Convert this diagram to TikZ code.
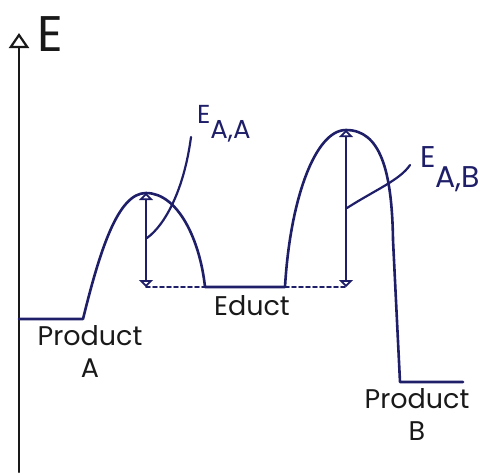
\documentclass[tikz,border=0pt]{standalone}
\usepackage{fontspec}
\setmainfont{Poppins}
\usetikzlibrary{arrows.meta}
\definecolor{ink}{RGB}{30,30,105}
\definecolor{pencil}{RGB}{25,25,25}
\tikzset{
  prof/.style={draw=ink,line width=2.6pt,line join=round},
  lead/.style={draw=ink,line width=2.2pt},
  twotip/.style={draw=ink,line width=2.2pt,{Triangle[open,length=7pt,width=14pt]}-{Triangle[open,length=7pt,width=14pt]}},
  level/.style={draw=ink,line width=1.9pt,dash pattern=on 4pt off 3pt},
  lbl/.style={inner sep=0pt,text=pencil,font=\fontsize{27}{32}\selectfont,align=center},
  ea/.style={inner sep=0pt,text=ink}
}
\begin{document}
\begin{tikzpicture}[x=1pt,y=-1pt,line width=2.2pt,line cap=round]
  \useasboundingbox (0,0) rectangle (489,475);
  \coordinate (O) at (19,472); \coordinate (Top) at (19,33);
  \draw[pencil,-{Triangle[open,length=15pt,width=20pt]}] (O)--(Top);
  \node[anchor=north west,inner sep=0pt,text=pencil,font=\fontsize{50}{50}\selectfont] (E) at (36,15) {E};
  \coordinate (Pa0) at (19,319); \coordinate (Pa) at (83,319); \coordinate (Ta) at (146,193);
  \coordinate (Ea) at (205,287); \coordinate (Eb) at (285,287); \coordinate (Tb) at (346,130);
  \coordinate (Bb) at (393,240); \coordinate (Pb) at (400,382); \coordinate (Pb1) at (463,382);
  \coordinate (Ba) at (146,287); \coordinate (Bt) at (346,287);
  \draw[prof] (Pa0)--(Pa) .. controls (100,250) and (118,193) .. (Ta) .. controls (178,193) and (200,240) .. (Ea)
    --(Eb) .. controls (290,200) and (315,130) .. (Tb) .. controls (380,130) and (392,170) .. (Bb)--(Pb)--(Pb1);
  \draw[level] (Ba)--(Ea); \draw[level] (Eb)--(Bt);
  \draw[twotip] (Ta)--(Ba); \draw[twotip] (Tb)--(Bt);
  \coordinate (La) at (191,137); \coordinate (Ma) at (147,238);
  \coordinate (Lb) at (410,165); \coordinate (Mb) at (347,208);
  \draw[lead] (La) .. controls (184,190) and (165,225) .. (Ma);
  \draw[lead] (Lb) .. controls (400,180) and (375,190) .. (Mb);
  \node[ea,anchor=base west,font=\fontsize{26}{26}\selectfont] (Eaa) at (196,123) {E\raisebox{-15pt}{A,A}};
  \node[ea,anchor=base west,font=\fontsize{30}{30}\selectfont] (Eab) at (419,167) {E\raisebox{-20pt}{A,B}};
  \node[lbl,anchor=north] (PrA) at (90,324) {Product\\A};
  \node[lbl,anchor=north] (Ed) at (252,294) {Educt};
  \node[lbl,anchor=north] (PrB) at (417,387) {Product\\B};
\end{tikzpicture}
\end{document}
